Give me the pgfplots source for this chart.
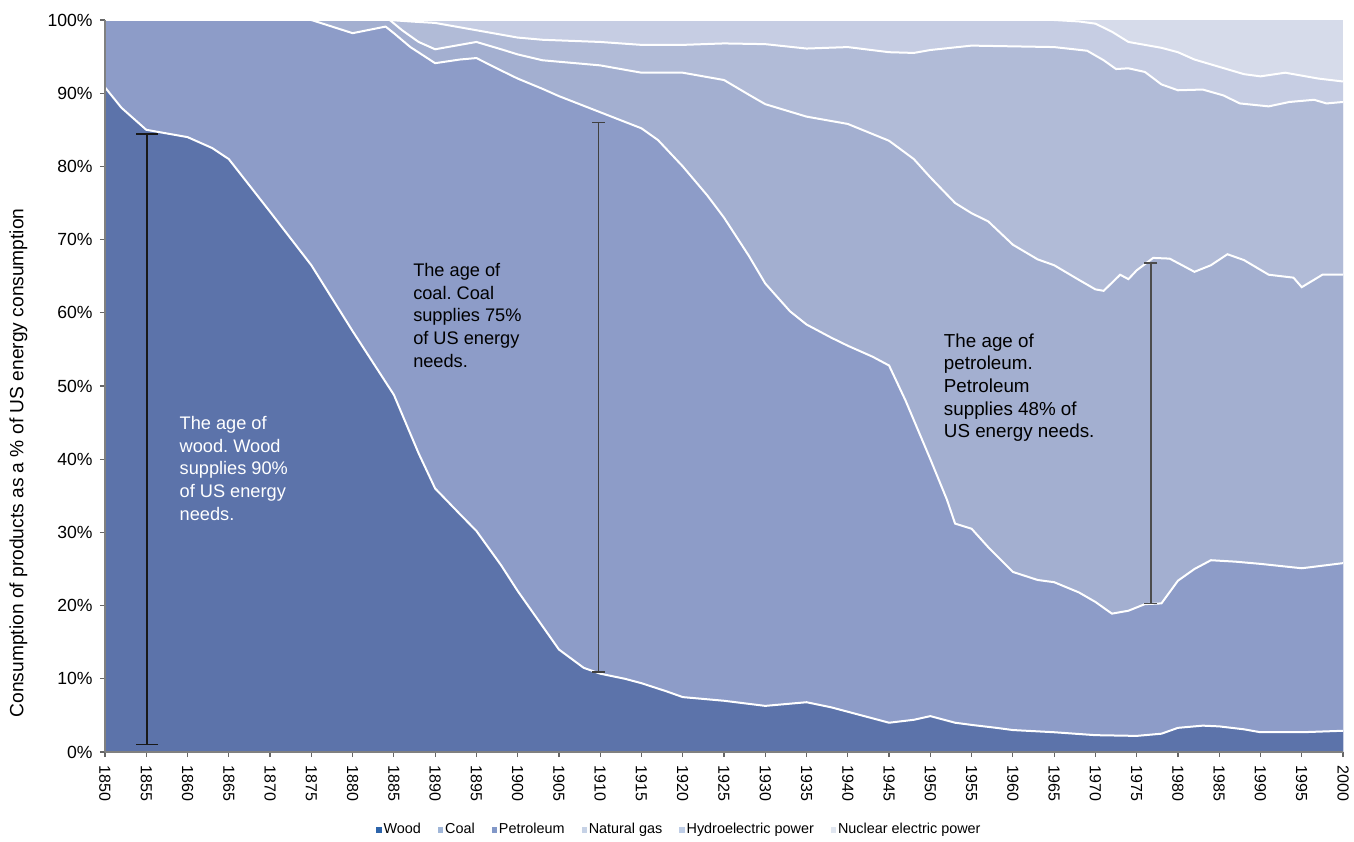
\documentclass[border=0pt]{standalone}
\usepackage{fontspec}
\setmainfont{Liberation Sans}
\usepackage{pgfplots}
\usepackage{pgfplotstable}
\pgfplotsset{compat=1.18}
\frenchspacing

\definecolor{cwood}{RGB}{92,115,170}
\definecolor{ccoal}{RGB}{141,156,200}
\definecolor{cpet}{RGB}{163,175,208}
\definecolor{cgas}{RGB}{177,187,215}
\definecolor{chydro}{RGB}{198,205,227}
\definecolor{cnuc}{RGB}{214,219,234}
\definecolor{lwood}{RGB}{45,100,170}
\definecolor{lcoal}{RGB}{160,182,216}
\definecolor{lpet}{RGB}{130,152,200}
\definecolor{lgas}{RGB}{198,210,230}
\definecolor{lhydro}{RGB}{190,205,230}
\definecolor{lnuc}{RGB}{224,230,240}

% top of each layer, % of US energy consumption (cumulative)
\pgfplotstableread{
year top
1850 90.8
1852 88
1855 85
1857 84.6
1860 84
1863 82.5
1865 81
1870 73.8
1875 66.5
1880 57.5
1885 48.8
1888 40.8
1890 36
1893 32.5
1895 30.2
1898 25.5
1900 22
1903 17.2
1905 14
1908 11.5
1910 10.7
1913 10
1915 9.4
1918 8.3
1920 7.5
1925 7
1930 6.3
1933 6.6
1935 6.8
1938 6.1
1940 5.5
1943 4.6
1945 4
1948 4.4
1950 4.9
1953 4
1955 3.7
1958 3.3
1960 3
1965 2.7
1970 2.3
1975 2.2
1978 2.5
1980 3.3
1983 3.6
1985 3.5
1988 3.1
1990 2.7
1995 2.7
2000 2.9
}\woodtop

\pgfplotstableread{
year top
1850 100
1875 100
1880 98.2
1884 99.1
1885 98.2
1887 96.3
1890 94.1
1893 94.6
1895 94.8
1898 93.1
1900 92
1903 90.6
1905 89.6
1910 87.4
1915 85.2
1917 83.6
1920 80
1923 76
1925 73
1928 67.8
1930 64
1933 60.2
1935 58.4
1938 56.6
1940 55.5
1943 54
1945 52.8
1947 48
1950 40
1952 34.5
1953 31.2
1955 30.5
1957 28
1960 24.6
1963 23.5
1965 23.2
1968 21.8
1970 20.5
1972 18.9
1974 19.3
1976 20.2
1978 20.3
1980 23.4
1982 25
1984 26.2
1987 26
1990 25.7
1995 25.1
2000 25.8
}\coaltop

\pgfplotstableread{
year top
1850 100
1884.5 100
1886 98.6
1888 97
1890 96
1893 96.6
1895 97
1898 96
1900 95.3
1903 94.5
1905 94.3
1910 93.8
1915 92.8
1920 92.8
1925 91.8
1928 89.8
1930 88.5
1935 86.8
1940 85.8
1945 83.5
1948 81
1950 78.5
1953 75
1955 73.6
1957 72.5
1960 69.3
1963 67.3
1965 66.5
1968 64.5
1970 63.2
1971 63
1973 65.2
1974 64.6
1975 65.8
1977 67.5
1979 67.4
1982 65.6
1984 66.5
1986 68
1988 67.2
1991 65.2
1994 64.8
1995 63.5
1997.5 65.2
2000 65.2
}\pettop

\pgfplotstableread{
year top
1850 100
1884.5 100
1887 99.8
1890 99.6
1895 98.6
1900 97.6
1903 97.3
1910 97
1915 96.6
1920 96.6
1925 96.8
1930 96.7
1935 96.1
1940 96.3
1945 95.6
1948 95.5
1950 95.9
1955 96.5
1960 96.4
1965 96.3
1969 95.8
1971 94.5
1972.5 93.3
1974 93.4
1976 92.9
1978 91.2
1980 90.4
1983 90.5
1985.5 89.7
1987.5 88.6
1991 88.2
1993.5 88.8
1996.5 89.1
1998 88.6
2000 88.8
}\gastop

\pgfplotstableread{
year top
1850 100
1965 100
1968 99.8
1970 99.5
1972 98.4
1974 97
1976 96.6
1978 96.2
1980 95.6
1982 94.6
1985 93.6
1988 92.6
1990 92.3
1993 92.8
1995 92.4
1997 92
2000 91.6
}\hydrotop

\pgfplotstableread{
year top
1850 100
2000 100
}\nuctop

\begin{document}
\begin{tikzpicture}
\begin{axis}[
    scale only axis,
    width=619pt, height=366pt,
    xmin=1850, xmax=2000, ymin=0, ymax=100,
    axis lines*=left,
    axis on top,
    axis line style={black!50, line width=0.6pt},
    tick align=outside,
    major tick length=2.5pt,
    tick style={black!60, line width=0.6pt},
    xtick={1850,1855,...,2000},
    ytick={0,10,...,100},
    yticklabel={\pgfmathprintnumber{\tick}\%},
    /pgf/number format/assume math mode=true,
    /pgf/number format/1000 sep={},
    yticklabel style={font=\fontsize{8.8}{10}\selectfont, inner sep=0pt, xshift=-3.5pt},
    xticklabel style={rotate=-90, anchor=west, font=\fontsize{8}{9}\selectfont, inner sep=0pt, xshift=4pt},
    ylabel={Consumption of products as a \% of US energy consumption},
    ylabel style={at={(axis description cs:-0.07,0.395)}, anchor=center, font=\fontsize{9.6}{11}\selectfont},
    legend columns=6,
    legend style={draw=none, fill=none, at={(axis description cs:0.464,-0.1066)}, anchor=center,
        font=\fontsize{7.2}{8.5}\selectfont,
        /tikz/every even column/.append style={column sep=7.5pt},
        nodes={inner sep=1pt}},
    legend image code/.code={\fill[#1, draw=none] (0pt,-1.3pt) rectangle (2.6pt,1.3pt);},
]
% stacked areas, painted from the top layer down
\addplot[fill=cnuc, draw=none, forget plot] table[x=year, y=top] {\nuctop} \closedcycle;
\addplot[fill=chydro, draw=none, forget plot] table[x=year, y=top] {\hydrotop} \closedcycle;
\addplot[fill=cgas, draw=none, forget plot] table[x=year, y=top] {\gastop} \closedcycle;
\addplot[fill=cpet, draw=none, forget plot] table[x=year, y=top] {\pettop} \closedcycle;
\addplot[fill=ccoal, draw=none, forget plot] table[x=year, y=top] {\coaltop} \closedcycle;
\addplot[fill=cwood, draw=none, forget plot] table[x=year, y=top] {\woodtop} \closedcycle;
% white boundaries
\addplot[white, line width=1pt, forget plot] table[x=year, y=top] {\hydrotop};
\addplot[white, line width=1pt, forget plot] table[x=year, y=top] {\gastop};
\addplot[white, line width=1pt, forget plot] table[x=year, y=top] {\pettop};
\addplot[white, line width=1pt, forget plot] table[x=year, y=top] {\coaltop};
\addplot[white, line width=1pt, forget plot] table[x=year, y=top] {\woodtop};
% range markers
\addplot[black!90, line width=0.8pt, mark=-, mark size=5.5pt, mark options={solid}, forget plot]
    coordinates {(1855.1,1.0) (1855.1,84.4)};
\addplot[black!75, line width=0.8pt, mark=-, mark size=3.2pt, mark options={solid}, forget plot]
    coordinates {(1909.8,10.9) (1909.8,86.0)};
\addplot[black!70, line width=0.8pt, mark=-, mark size=3.2pt, mark options={solid}, forget plot]
    coordinates {(1976.7,20.3) (1976.7,66.8)};

\node[anchor=north west, align=left, inner sep=0pt, text=white, font=\fontsize{9.1}{11.3}\selectfont]
    at (axis cs:1859.0,45.9) {The age of\\wood. Wood\\supplies 90\%\\of US energy\\needs.};
\node[anchor=north west, align=left, inner sep=0pt, text=black, font=\fontsize{9.1}{11.3}\selectfont]
    at (axis cs:1887.3,66.8) {The age of\\coal. Coal\\supplies 75\%\\of US energy\\needs.};
\node[anchor=north west, align=left, inner sep=0pt, text=black, font=\fontsize{9.4}{11.3}\selectfont]
    at (axis cs:1951.6,57.2) {The age of\\petroleum.\\Petroleum\\supplies 48\% of\\US energy needs.};

\addlegendimage{fill=lwood}\addlegendentry{Wood}
\addlegendimage{fill=lcoal}\addlegendentry{Coal}
\addlegendimage{fill=lpet}\addlegendentry{Petroleum}
\addlegendimage{fill=lgas}\addlegendentry{Natural gas}
\addlegendimage{fill=lhydro}\addlegendentry{Hydroelectric power}
\addlegendimage{fill=lnuc}\addlegendentry{Nuclear electric power}
\end{axis}
\pgfresetboundingbox
\path[use as bounding box] ([shift={(-52.5pt,-44.5pt)}]current axis.south west) rectangle ++(677pt,420.5pt);
\end{tikzpicture}
\end{document}
